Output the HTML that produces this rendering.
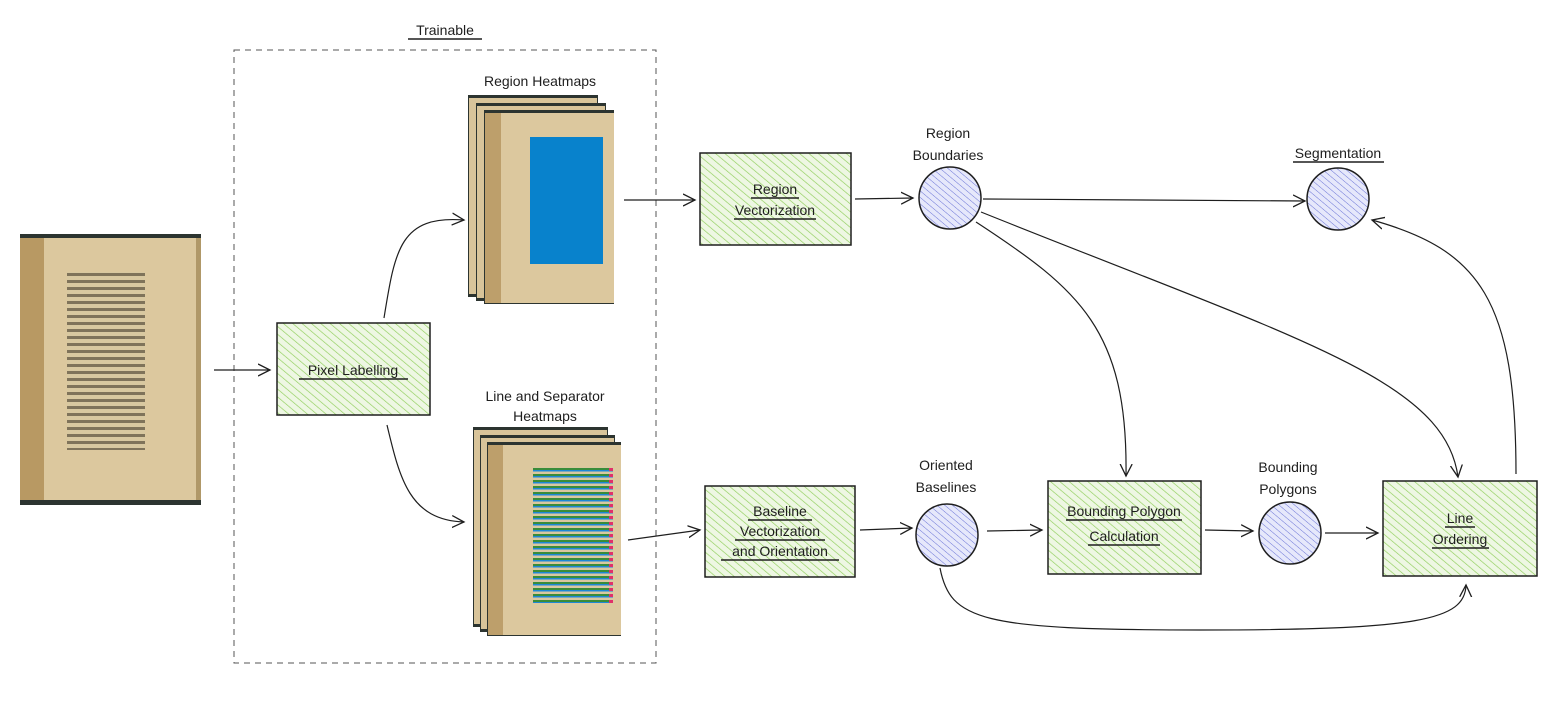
<!DOCTYPE html>
<html><head><meta charset="utf-8"><style>
html,body{margin:0;padding:0;background:#fff;}
svg text{font-family:"Liberation Sans",sans-serif;fill:#1e1e1e;}
</style></head><body>
<svg width="1560" height="702" viewBox="0 0 1560 702" xmlns="http://www.w3.org/2000/svg">
<defs>
<pattern id="g" width="6" height="6" patternUnits="userSpaceOnUse" patternTransform="rotate(-50)">
<rect width="6" height="6" fill="#eef7e3"/><line x1="0" y1="0" x2="0" y2="6" stroke="#8fce5a" stroke-width="1.3"/></pattern>
<pattern id="b" width="5" height="5" patternUnits="userSpaceOnUse" patternTransform="rotate(-50)">
<rect width="5" height="5" fill="#e6e8fb"/><line x1="0" y1="0" x2="0" y2="5" stroke="#6b74d6" stroke-width="1"/></pattern>
<pattern id="txt" x="67" y="272" width="78" height="7" patternUnits="userSpaceOnUse">
<rect width="78" height="7" fill="#d8c8a0"/><rect y="1" width="78" height="3" fill="#5a4e3c" opacity="0.7"/></pattern>
<pattern id="ln" x="533" y="467" width="80" height="6" patternUnits="userSpaceOnUse">
<rect width="80" height="6" fill="#d8c8a0"/><rect y="1" width="80" height="2" fill="#3a8c3a"/><rect y="3" width="80" height="1.5" fill="#1e88d6"/><rect x="76" y="1" width="4" height="3" fill="#e0306a"/></pattern>
<marker id="a" markerWidth="14" markerHeight="14" refX="12" refY="7" orient="auto" markerUnits="userSpaceOnUse">
<path d="M0,1 L12,7 L0,13" fill="none" stroke="#1e1e1e" stroke-width="1.3"/></marker>
</defs>

<text x="445" y="35" font-size="14" text-anchor="middle">Trainable</text>
<line x1="408" y1="39" x2="482" y2="39" stroke="#1e1e1e" stroke-width="1.5"/>
<rect x="234" y="50" width="422" height="613" fill="none" stroke="#555" stroke-dasharray="6 5" stroke-width="1"/>

<!-- input book -->
<rect x="20" y="234" width="181" height="271" fill="#2c3430"/>
<rect x="20" y="238" width="181" height="262" fill="#dcc89e"/>
<rect x="20" y="238" width="24" height="262" fill="#a8844a" opacity="0.7"/>
<rect x="196" y="238" width="5" height="262" fill="#b09868"/>
<rect x="67" y="272" width="78" height="178" fill="url(#txt)"/>

<!-- region heatmaps -->
<text x="540" y="86" font-size="14" text-anchor="middle">Region Heatmaps</text>
<g><rect x="468" y="95" width="130" height="202" fill="#2c3430"/><rect x="469" y="98" width="128" height="196" fill="#d8c49a"/>
<rect x="476" y="103" width="130" height="198" fill="#2c3430"/><rect x="477" y="106" width="128" height="192" fill="#d8c49a"/>
<rect x="484" y="110" width="130" height="194" fill="#2c3430"/><rect x="485" y="113" width="129" height="190" fill="#dcc89e"/>
<rect x="485" y="113" width="16" height="190" fill="#a8844a" opacity="0.6"/>
<rect x="530" y="137" width="73" height="127" fill="#0882cc"/></g>

<!-- line heatmaps -->
<text x="545" y="401" font-size="14" text-anchor="middle">Line and Separator</text>
<text x="545" y="421" font-size="14" text-anchor="middle">Heatmaps</text>
<g><rect x="473" y="427" width="135" height="200" fill="#2c3430"/><rect x="474" y="430" width="133" height="194" fill="#d8c49a"/>
<rect x="480" y="435" width="135" height="197" fill="#2c3430"/><rect x="481" y="438" width="133" height="191" fill="#d8c49a"/>
<rect x="487" y="442" width="134" height="194" fill="#2c3430"/><rect x="488" y="445" width="133" height="190" fill="#dcc89e"/>
<rect x="488" y="445" width="15" height="190" fill="#a8844a" opacity="0.6"/>
<rect x="533" y="467" width="80" height="136" fill="url(#ln)"/></g>

<!-- boxes -->
<g stroke="#1e1e1e" stroke-width="1.5">
<rect x="277" y="323" width="153" height="92" fill="url(#g)"/>
<rect x="700" y="153" width="151" height="92" fill="url(#g)"/>
<rect x="705" y="486" width="150" height="91" fill="url(#g)"/>
<rect x="1048" y="481" width="153" height="93" fill="url(#g)"/>
<rect x="1383" y="481" width="154" height="95" fill="url(#g)"/>
<circle cx="950" cy="198" r="31" fill="url(#b)"/>
<circle cx="1338" cy="199" r="31" fill="url(#b)"/>
<circle cx="947" cy="535" r="31" fill="url(#b)"/>
<circle cx="1290" cy="533" r="31" fill="url(#b)"/>
</g>
<g font-size="14" text-anchor="middle">
<text x="353" y="375">Pixel Labelling</text>
<text x="775" y="194">Region</text><text x="775" y="215">Vectorization</text>
<text x="780" y="516">Baseline</text><text x="780" y="536">Vectorization</text><text x="780" y="556">and Orientation</text>
<text x="1124" y="516">Bounding Polygon</text><text x="1124" y="541">Calculation</text>
<text x="1460" y="523">Line</text><text x="1460" y="544">Ordering</text>
<text x="948" y="138">Region</text><text x="948" y="160">Boundaries</text>
<text x="1338" y="158">Segmentation</text>
<text x="946" y="470">Oriented</text><text x="946" y="492">Baselines</text>
<text x="1288" y="472">Bounding</text><text x="1288" y="494">Polygons</text>
</g>
<g stroke="#1e1e1e" stroke-width="1.5">
<line x1="299" y1="379" x2="408" y2="379"/>
<line x1="751" y1="198" x2="799" y2="198"/><line x1="734" y1="219" x2="816" y2="219"/>
<line x1="748" y1="520" x2="812" y2="520"/><line x1="735" y1="540" x2="825" y2="540"/><line x1="721" y1="560" x2="839" y2="560"/>
<line x1="1066" y1="520" x2="1182" y2="520"/><line x1="1088" y1="545" x2="1160" y2="545"/>
<line x1="1445" y1="527" x2="1475" y2="527"/><line x1="1432" y1="548" x2="1489" y2="548"/>
<line x1="1293" y1="162" x2="1384" y2="162"/>
</g>

<!-- connectors -->
<g fill="none" stroke="#1e1e1e" stroke-width="1.2" marker-end="url(#a)">
<path d="M214,370 L270,370"/>
<path d="M384,318 C395,250 400,215 464,220"/>
<path d="M387,425 C400,480 410,520 464,522"/>
<path d="M624,200 L695,200"/>
<path d="M628,540 L700,530"/>
<path d="M855,199 L913,198"/>
<path d="M860,530 L912,528"/>
<path d="M983,199 L1305,201"/>
<path d="M976,222 C1080,290 1128,330 1126,476"/>
<path d="M981,212 C1300,340 1445,380 1458,477"/>
<path d="M1516,474 C1516,300 1480,250 1372,220"/>
<path d="M987,531 L1042,530"/>
<path d="M1205,530 L1253,531"/>
<path d="M1325,533 L1378,533"/>
<path d="M940,568 C950,620 980,630 1200,630 C1420,630 1465,620 1466,585"/>
</g>
</svg>
</body></html>
